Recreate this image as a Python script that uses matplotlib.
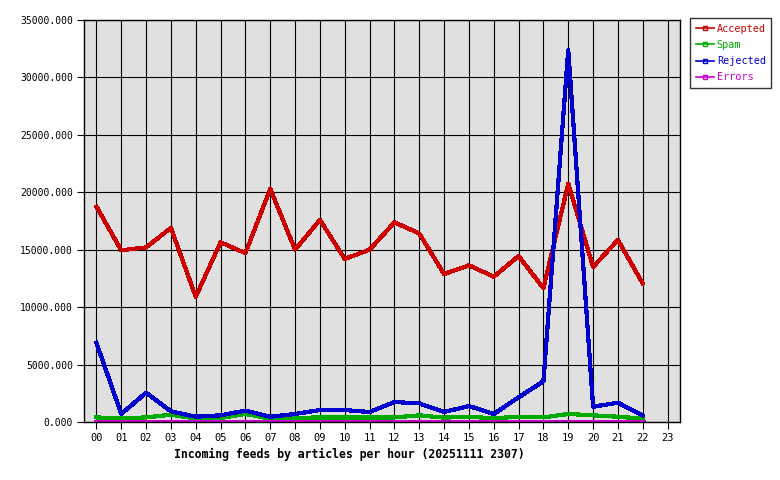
import matplotlib
matplotlib.use("Agg")
import matplotlib.pyplot as plt
from matplotlib.ticker import FuncFormatter

# hours and series
hours = ["00", "01", "02", "03", "04", "05", "06", "07", "08", "09", "10", "11",
         "12", "13", "14", "15", "16", "17", "18", "19", "20", "21", "22", "23"]
accepted = [18750, 14950, 15200, 16900, 10900, 15650, 14700, 20300, 15000, 17600, 14200, 15000,
            17380, 16420, 12880, 13640, 12650, 14450, 11650, 20750, 13500, 15850, 12050]
spam = [400, 300, 400, 640, 300, 350, 700, 300, 350, 400, 400, 400,
        400, 580, 380, 460, 320, 460, 400, 700, 580, 460, 290]
rejected = [6900, 700, 2550, 930, 460, 580, 990, 460, 700, 1040, 1040, 870,
            1740, 1620, 870, 1390, 700, 2150, 3540, 32400, 1330, 1680, 580]
errors = [40] * 23

series = [("Accepted", accepted, "#cc0000"),
          ("Spam", spam, "#00aa00"),
          ("Rejected", rejected, "#0000cc"),
          ("Errors", errors, "#cc00cc")]

mono = "DejaVu Sans Mono"

fig = plt.figure(figsize=(7.8, 4.8), dpi=100)
ax = fig.add_axes([84 / 780, 58 / 480, 596 / 780, 402 / 480])
ax.set_facecolor("#e0e0e0")

x = list(range(len(accepted)))
for name, vals, col in series:
    ax.plot(x, vals, color=col, lw=2.3, antialiased=False, label=name)

ax.set_xlim(-0.5, 23.5)
ax.set_ylim(0, 35000)
ax.set_xticks(range(24))
ax.set_xticklabels(hours, fontfamily=mono, fontsize=7.5)
ax.set_yticks(range(0, 35001, 5000))
ax.yaxis.set_major_formatter(FuncFormatter(lambda v, p: "%.3f" % v))
for lab in ax.get_yticklabels():
    lab.set_fontfamily(mono)
    lab.set_fontsize(7)
ax.tick_params(direction="out", length=5, width=0.8, color="black", pad=3)
ax.grid(True, color="black", lw=0.8)
ax.set_axisbelow(True)
for s in ax.spines.values():
    s.set_color("black")
    s.set_linewidth(1)

ax.set_xlabel("Incoming feeds by articles per hour (20251111 2307)",
              fontfamily=mono, fontweight="bold", fontsize=8.3, labelpad=2)
ax.xaxis.set_label_coords((349 - 84) / 596, -0.065)

# legend outside on the right
handles = [plt.Line2D([], [], color=c, lw=1.2, marker="s", markersize=2.5,
                      markerfacecolor="none", markeredgecolor=c) for _, _, c in series]
leg = fig.legend(handles, [n for n, _, _ in series], loc="upper left",
                 bbox_to_anchor=(690 / 780, 1 - 18 / 480), frameon=True, fancybox=False,
                 prop={"family": mono, "size": 7.3}, handlelength=1.8, handletextpad=0.3,
                 labelspacing=0.62, borderpad=0.55, borderaxespad=0)
leg.get_frame().set_edgecolor("black")
leg.get_frame().set_linewidth(1)
for txt, (_, _, c) in zip(leg.get_texts(), series):
    txt.set_color(c)

fig.savefig("out.png", dpi=100, facecolor="white")
